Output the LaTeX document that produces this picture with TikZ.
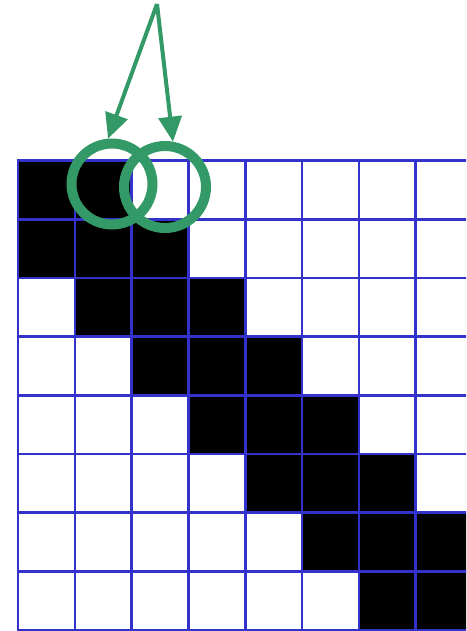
\documentclass[tikz,border=0pt]{standalone}
\usepackage{xcolor}
\usetikzlibrary{arrows.meta}
\definecolor{ringgreen}{HTML}{339966}
\definecolor{gridblue}{HTML}{3333CC}

\begin{document}
\begin{tikzpicture}[x=1pt, y=-1pt,
  cell/.style={fill=black},
  gridline/.style={draw=gridblue, line width=2.6pt},
  ring/.style={circle, draw=ringgreen, line width=10pt, inner sep=0pt},
  pointer/.style={-{Triangle[length=25pt, width=23pt]}, draw=ringgreen,
                  fill=ringgreen, line width=4pt}]
\useasboundingbox (0,0) rectangle (466,631);
\clip (0,0) rectangle (466,631);
% Black band along the diagonal (row/column).
\foreach \r/\c in {0/0,0/1, 1/0,1/1,1/2, 2/1,2/2,2/3, 3/2,3/3,3/4,
                   4/3,4/4,4/5, 5/4,5/5,5/6, 6/5,6/6,6/7, 7/6,7/7}
  \fill[cell] (18+\c*56.8, 160.5+\r*58.7) rectangle ++(56.8, 58.7);
% Grid lines.
\foreach \i in {0,...,8}
  \draw[gridline] (18+\i*56.8, 160.5) -- (18+\i*56.8, 632);
\foreach \j in {0,...,8}
  \draw[gridline] (16.7, 160.5+\j*58.7) -- (480, 160.5+\j*58.7);
% The two overlapping rings and the arrows pointing at them.
\node[ring, minimum size=81pt] (leftring) at (112,184) {};
\node[ring, minimum size=82pt] (rightring) at (165,187) {};
\coordinate (apex) at (157,4);
\draw[pointer] (apex) -- (leftring.95);
\draw[pointer] (apex) -- (rightring.80);
\end{tikzpicture}
\end{document}
